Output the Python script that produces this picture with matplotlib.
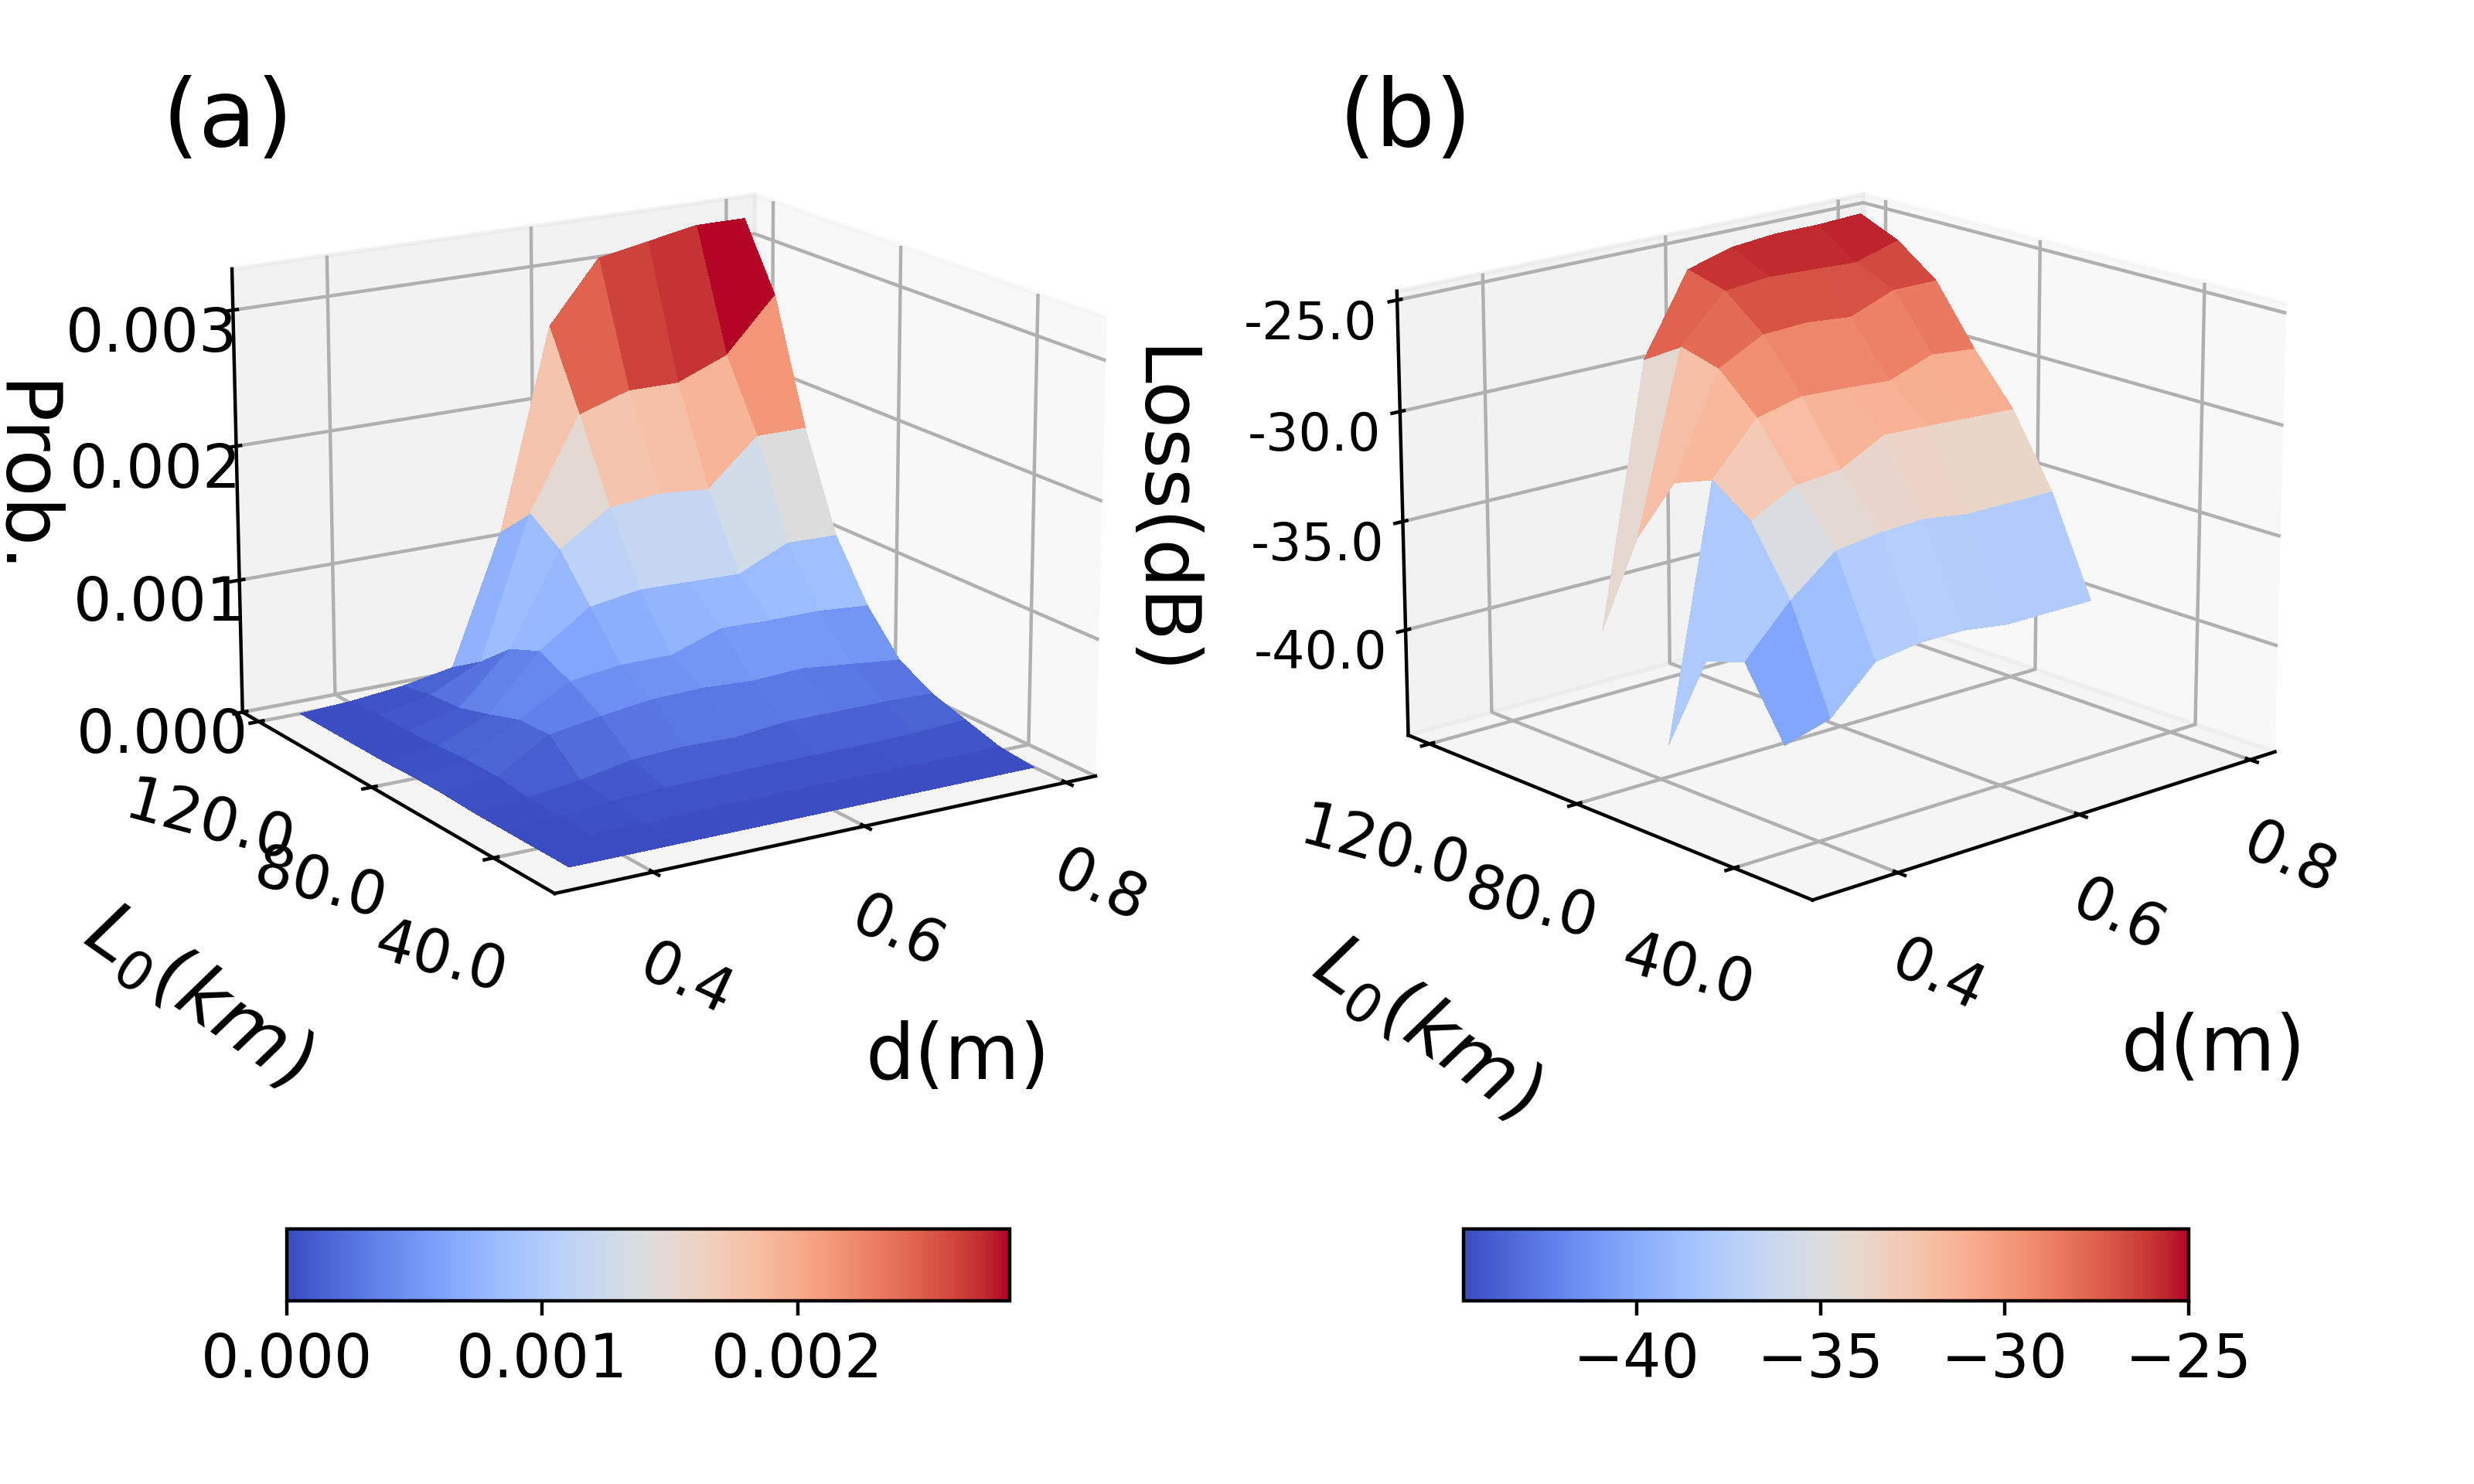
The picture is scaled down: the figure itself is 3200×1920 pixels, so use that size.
import numpy as np
import matplotlib
matplotlib.use('Agg')
import matplotlib.pyplot as plt

d = [0.35, 0.40, 0.45, 0.50, 0.55, 0.60, 0.65, 0.70, 0.75, 0.80]
L0 = [30, 40, 50, 60, 70, 80, 90, 100, 110, 120]

# rows are L0, columns are d (values in 1e-3)
prob = [
    [0.00, 0.00, 0.00, 0.00, 0.00, 0.00, 0.00, 0.00, 0.00, 0.00],
    [0.00, 0.01, 0.02, 0.03, 0.03, 0.03, 0.03, 0.03, 0.03, 0.03],
    [0.00, 0.02, 0.05, 0.07, 0.07, 0.08, 0.08, 0.08, 0.09, 0.11],
    [0.00, 0.03, 0.08, 0.15, 0.17, 0.16, 0.20, 0.20, 0.20, 0.19],
    [0.01, 0.06, 0.29, 0.35, 0.40, 0.41, 0.39, 0.41, 0.37, 0.33],
    [0.01, 0.06, 0.28, 0.49, 0.54, 0.54, 0.67, 0.66, 0.66, 0.63],
    [0.00, 0.04, 0.20, 0.60, 0.86, 0.92, 0.91, 0.90, 1.07, 1.06],
    [0.00, 0.03, 0.13, 0.50, 1.18, 1.43, 1.47, 1.44, 1.78, 1.78],
    [0.00, 0.03, 0.11, 0.29, 1.35, 2.03, 2.15, 2.15, 2.30, 2.70],
    [0.00, 0.02, 0.06, 0.13, 1.11, 2.60, 3.06, 3.13, 3.20, 3.20],
]

nan = np.nan
loss = [
    [nan, nan, nan, nan, nan, nan, nan, nan, nan, nan],
    [nan, nan, nan, nan, nan, nan, nan, nan, nan, nan],
    [nan, nan, nan, nan, nan, nan, nan, nan, nan, nan],
    [nan, nan, -42.6, -42.0, -40.0, -39.7, -39.7, -40.0, -40.0, -40.0],
    [nan, nan, -39.5, -37.3, -35.6, -35.3, -35.2, -35.5, -35.5, -35.5],
    [nan, nan, -40.1, -34.3, -33.2, -33.0, -31.9, -32.0, -32.1, -32.2],
    [nan, nan, nan, -33.0, -30.7, -30.2, -30.3, -30.45, -29.7, -29.9],
    [nan, nan, nan, -33.7, -29.0, -27.9, -27.8, -28.0, -27.2, -27.2],
    [nan, nan, nan, -36.8, -28.5, -26.4, -26.2, -26.3, -26.4, -25.8],
    [nan, nan, nan, -41.8, -29.6, -25.9, -25.3, -25.1, -25.1, -25.0],
]
# lowest point, d=0.45 L0=90, only joined to the cell below it
loss_tip = -44.6

d_ticks = [0.4, 0.6, 0.8]
L_ticks = [40, 80, 120]
prob_ticks = [0.000, 0.001, 0.002, 0.003]
loss_ticks = [-40, -35, -30, -25]

X, Y = np.meshgrid(d, L0)
Z_prob = np.array(prob) * 1e-3
Z_loss = np.array(loss)
Z_tip = Z_loss[5:7, 2:4].copy()
Z_tip[1, 0] = loss_tip

fig = plt.figure(figsize=(8, 4.8), dpi=400)


def setup(ax, ztick_size, zfmt, zticks, zlim, xpad, ypad):
    ax.set_xlim(0.31, 0.83)
    ax.set_ylim(21, 126)
    ax.set_zlim(*zlim)
    ax.set_xticks(d_ticks)
    ax.set_yticks(L_ticks)
    ax.set_zticks(zticks)
    ax.set_xticklabels(['%.1f' % v for v in d_ticks], fontsize=14)
    ax.set_yticklabels(['%.1f' % v for v in L_ticks], fontsize=14)
    ax.set_zticklabels([zfmt % v for v in zticks], fontsize=ztick_size)
    ax.tick_params(axis='x', labelrotation=-25, pad=xpad)
    ax.tick_params(axis='y', labelrotation=-15, pad=ypad)
    ax.xaxis.set_rotate_label(False)
    ax.yaxis.set_rotate_label(False)
    ax.zaxis.set_rotate_label(False)


# (a)
ax1 = fig.add_axes([0.042, 0.312, 0.44, 0.656], projection='3d')
surf1 = ax1.plot_surface(X, Y, Z_prob, cmap='coolwarm', vmin=0, vmax=0.00283,
                         linewidth=0, antialiased=False)
setup(ax1, 14, '%.3f', prob_ticks, (0, 0.0033), 3, 3)
ax1.view_init(elev=16.5, azim=-122)
ax1.set_xlabel('d(m)', fontsize=18, rotation=0, labelpad=19)
ax1.set_ylabel('$L_0(km)$', fontsize=18, rotation=-35, labelpad=20)
ax1.set_zlabel('Prob.', fontsize=18, rotation=270, labelpad=10)

# (b)
ax2 = fig.add_axes([0.5183, 0.313, 0.44, 0.651], projection='3d')
ax2.computed_zorder = False
surf2 = ax2.plot_surface(X, Y, Z_loss, cmap='coolwarm', vmin=-44.7, vmax=-25.0,
                         linewidth=0, antialiased=False, zorder=5)
ax2.plot_surface(X[5:7, 2:4], Y[5:7, 2:4], Z_tip, cmap='coolwarm', vmin=-44.7, vmax=-25.0,
                 linewidth=0, antialiased=False, zorder=6)
setup(ax2, 12, '%.1f', loss_ticks, (-44.9, -24.6), 2.5, 3)
ax2.view_init(elev=17, azim=-131.7)
ax2.set_xlabel('d(m)', fontsize=18, rotation=0, labelpad=21)
ax2.set_ylabel('$L_0(km)$', fontsize=18, rotation=-35, labelpad=20.5)
ax2.set_zlabel('Loss(dB)', fontsize=18, rotation=270, labelpad=12)

fig.text(0.092, 0.919, '(a)', fontsize=22, ha='center', va='center')
fig.text(0.568, 0.919, '(b)', fontsize=22, ha='center', va='center')

cax1 = fig.add_axes([0.116, 0.1234, 0.292, 0.0485])
fig.colorbar(surf1, cax=cax1, orientation='horizontal', ticks=[0, 0.001, 0.002], format='%.3f')
cax1.tick_params(labelsize=14)

cax2 = fig.add_axes([0.5917, 0.1234, 0.293, 0.0485])
fig.colorbar(surf2, cax=cax2, orientation='horizontal', ticks=loss_ticks)
cax2.tick_params(labelsize=14)

fig.savefig('out.png', dpi=400)
